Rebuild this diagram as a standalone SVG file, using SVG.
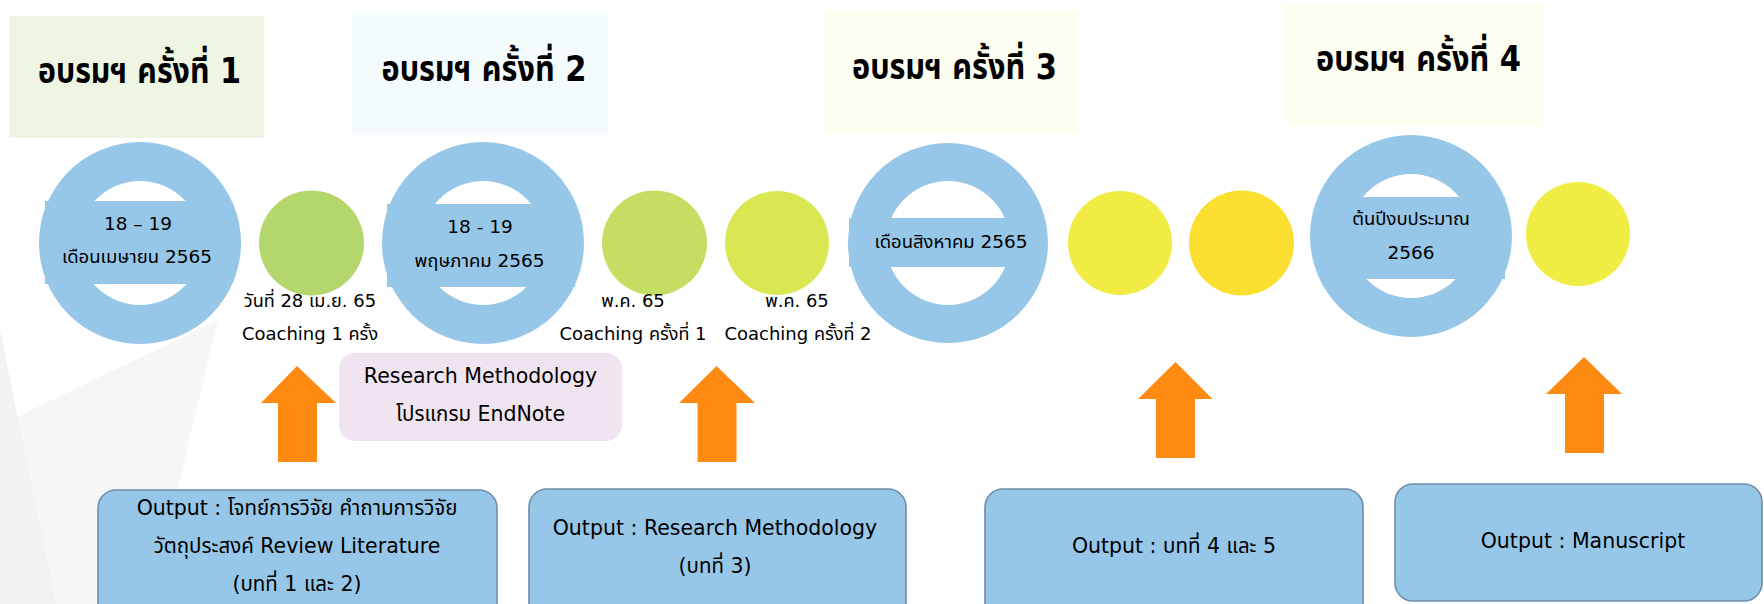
<svg xmlns="http://www.w3.org/2000/svg" width="1764" height="604" viewBox="0 0 1764 604">
<style>
text{font-family:"DejaVu Sans","Noto Sans Thai","Noto Sans",sans-serif;fill:#000;text-anchor:middle}
.title{font-size:36px;font-weight:bold}
.ctext{font-size:18.5px}
.lbl{font-size:18px}
.out{font-size:20.5px}
.ring{fill:#97C7E8}
.hole{fill:#FFFFFF}
.obox{fill:#97C7E8;stroke:#6E8DAB;stroke-width:1.6}
.arrow{fill:#FF8A12}
</style>
<rect width="1764" height="604" fill="#FFFFFF"/>
<g id="background">
<polygon points="0,425 218,320 150,604 0,604" fill="#F6F6F6"/>
<polygon points="0,330 56,604 0,604" fill="#F2F2F2"/>
</g>
<g id="title1"><rect x="9" y="16" width="255" height="122" fill="#EEF6E3"/><text class="title" x="139.5" y="83" textLength="203" lengthAdjust="spacingAndGlyphs">อบรมฯ ครั้งที่ 1</text></g>
<g id="title2"><rect x="352" y="13" width="256" height="122" fill="#F3FBFD"/><text class="title" x="484" y="81" textLength="205" lengthAdjust="spacingAndGlyphs">อบรมฯ ครั้งที่ 2</text></g>
<g id="title3"><rect x="823" y="11" width="255" height="122" fill="#FBFEF0"/><text class="title" x="954.5" y="79" textLength="205" lengthAdjust="spacingAndGlyphs">อบรมฯ ครั้งที่ 3</text></g>
<g id="title4"><rect x="1286" y="4" width="257" height="122" fill="#FBFEF0"/><text class="title" x="1418.5" y="71" textLength="205" lengthAdjust="spacingAndGlyphs">อบรมฯ ครั้งที่ 4</text></g>

<g id="session1">
<circle class="ring" cx="140" cy="243" r="101"/><circle class="hole" cx="140" cy="243" r="62"/>
<rect class="ring" x="45" y="201" width="186" height="83"/>
<text class="ctext" x="138" y="230">18 – 19</text><text class="ctext" x="137" y="263">เดือนเมษายน 2565</text>
</g>
<g id="coach0"><circle cx="311.5" cy="243" r="52.5" fill="#B3D66D"/>
<text class="lbl" x="310" y="307">วันที่ 28 เม.ย. 65</text><text class="lbl" x="310" y="340">Coaching 1 ครั้ง</text></g>
<g id="session2">
<circle class="ring" cx="483" cy="243" r="101"/><circle class="hole" cx="483" cy="243" r="62"/>
<rect class="ring" x="387" y="204" width="188" height="83"/>
<text class="ctext" x="480" y="233">18 - 19</text><text class="ctext" x="479.5" y="267">พฤษภาคม 2565</text>
</g>
<g id="coach1"><circle cx="654.5" cy="243" r="52.5" fill="#C3DE63"/>
<text class="lbl" x="633" y="307">พ.ค. 65</text><text class="lbl" x="633" y="340">Coaching ครั้งที่ 1</text></g>
<g id="coach2"><circle cx="777" cy="243" r="52" fill="#D9E852"/>
<text class="lbl" x="797" y="307">พ.ค. 65</text><text class="lbl" x="798" y="340">Coaching ครั้งที่ 2</text></g>
<g id="session3">
<circle class="ring" cx="948" cy="243" r="100"/><circle class="hole" cx="948" cy="243" r="62"/>
<rect class="ring" x="849" y="218" width="196" height="49"/>
<text class="ctext" x="951" y="248">เดือนสิงหาคม 2565</text>
</g>
<g id="step3a"><circle cx="1120" cy="243" r="52" fill="#F0EC44"/></g>
<g id="step3b"><circle cx="1241.5" cy="243" r="52.5" fill="#FBE032"/></g>
<g id="session4">
<circle class="ring" cx="1411" cy="236" r="101"/><circle class="hole" cx="1411" cy="236" r="62"/>
<rect class="ring" x="1320" y="197" width="185" height="82"/>
<text class="ctext" x="1411" y="225">ต้นปีงบประมาณ</text><text class="ctext" x="1411" y="259">2566</text>
</g>
<g id="step4a"><circle cx="1578" cy="234" r="52" fill="#F0EE45"/></g>

<g id="tools"><rect x="339" y="353" width="283" height="88" rx="16" fill="#F0E4F1"/>
<text class="out" x="480.5" y="383">Research Methodology</text><text class="out" x="480.5" y="421">โปรแกรม EndNote</text></g>

<g id="connectors">
<polygon class="arrow" points="297,366 336,403 317,403 317,462 278,462 278,403 261,403"/>
<polygon class="arrow" points="716.5,366 755,403 736.5,403 736.5,462 697.5,462 697.5,403 679,403"/>
<polygon class="arrow" points="1175.5,362 1212.5,399 1195,399 1195,458 1156,458 1156,399 1138,399"/>
<polygon class="arrow" points="1584,357 1622,394 1604,394 1604,453 1565,453 1565,394 1546,394"/>
</g>

<g id="output1"><rect class="obox" x="98" y="490" width="399" height="140" rx="18"/>
<text class="out" x="297" y="515">Output : โจทย์การวิจัย คำถามการวิจัย</text>
<text class="out" x="297" y="553">วัตถุประสงค์ Review Literature</text>
<text class="out" x="297" y="591">(บทที่ 1 และ 2)</text></g>
<g id="output2"><rect class="obox" x="529" y="489" width="377" height="140" rx="18"/>
<text class="out" x="715" y="535">Output : Research Methodology</text>
<text class="out" x="715" y="573">(บทที่ 3)</text></g>
<g id="output3"><rect class="obox" x="985" y="489" width="378" height="140" rx="18"/>
<text class="out" x="1174" y="553">Output : บทที่ 4 และ 5</text></g>
<g id="output4"><rect class="obox" x="1395" y="484" width="367" height="117" rx="18"/>
<text class="out" x="1583" y="548">Output : Manuscript</text></g>
</svg>
